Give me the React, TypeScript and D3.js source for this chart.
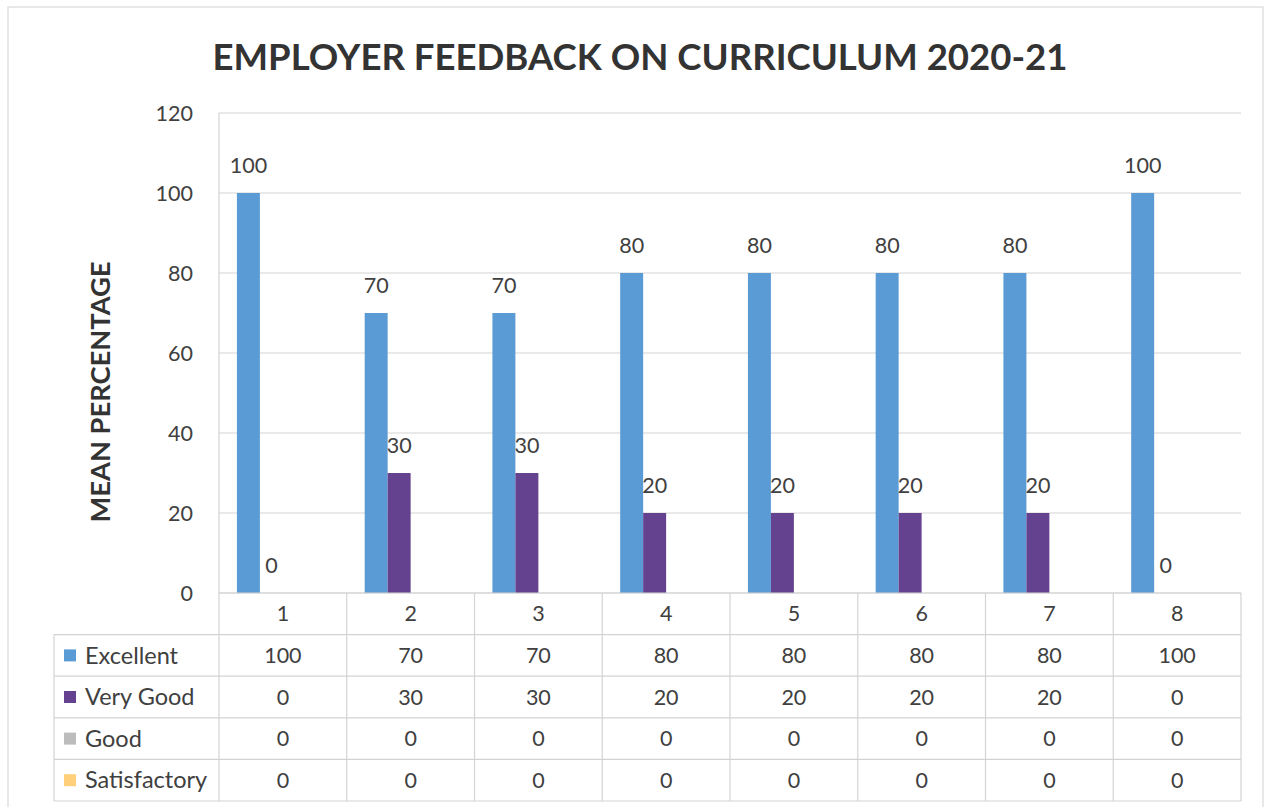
import React from "react";
import * as d3 from "d3";

const TITLE = "EMPLOYER FEEDBACK ON CURRICULUM 2020-21";
const Y_LABEL = "MEAN PERCENTAGE";
const categories = ["1", "2", "3", "4", "5", "6", "7", "8"];
const seriesNames = ["Excellent", "Very Good", "Good", "Satisfactory"];
const excellent = [100, 70, 70, 80, 80, 80, 80, 100];
const veryGood = [0, 30, 30, 20, 20, 20, 20, 0];
const good = [0, 0, 0, 0, 0, 0, 0, 0];
const satisfactory = [0, 0, 0, 0, 0, 0, 0, 0];
const yTicks = [0, 20, 40, 60, 80, 100, 120];
const colors = ["#5b9bd5", "#64428f", "#bcbcbc", "#ffcf7a"];
const showLabels = [true, true, false, false];

const seriesValues = [excellent, veryGood, good, satisfactory];

export default function App() {
  const W = 1267, H = 807;
  const left = 219, right = 1241, top = 113, bottom = 593;
  const tableLeft = 54;
  const rowH = 41.6;
  const font = "Lato, 'Open Sans', sans-serif";
  const txt = "#404040";
  const grid = "#d3d3d3";
  const fs = 21.5;

  const y = d3.scaleLinear().domain([0, 120]).range([bottom, top]);
  const x = d3.scaleBand().domain(categories).range([left, right]).paddingInner(0).paddingOuter(0);
  const inner = d3.scaleBand().domain(seriesNames).range([0, x.bandwidth()]).paddingOuter(0.78).paddingInner(0);

  const tableBottom = bottom + rowH * 5;

  return (
    <svg width={W} height={H} style={{ position: "absolute", left: 0, top: 0, background: "#fff" }} fontFamily={font}>
      <rect x={8} y={7} width={1255} height={812} fill="#fff" stroke="#d9d9d9" strokeWidth={1.2} />
      <text x={640} y={70} textAnchor="middle" fontSize={36} fontWeight="bold" fill="#333" textLength={855} lengthAdjust="spacingAndGlyphs">{TITLE}</text>
      {/* gridlines */}
      {yTicks.map((t) => (
        <line key={t} x1={left} x2={right} y1={y(t)} y2={y(t)} stroke={grid} strokeWidth={1.2} />
      ))}
      <line x1={left} x2={left} y1={top} y2={bottom} stroke={grid} strokeWidth={1.2} />
      {yTicks.map((t) => (
        <text key={"yt" + t} x={193} y={y(t)} dy="0.35em" textAnchor="end" fontSize={fs} fill={txt}>{t}</text>
      ))}
      <text transform={`translate(101,392) rotate(-90)`} textAnchor="middle" dy="0.35em" fontSize={26} fontWeight="bold" fill="#333" textLength={261} lengthAdjust="spacingAndGlyphs">{Y_LABEL}</text>
      {/* bars */}
      {seriesValues.map((vals, si) => (
        <g key={si}>
          {vals.map((v, ci) => {
            const bx = (x(categories[ci]) as number) + (inner(seriesNames[si]) as number);
            const bw = inner.bandwidth();
            return <rect key={ci} x={bx} y={y(v)} width={bw} height={bottom - y(v)} fill={colors[si]} />;
          })}
        </g>
      ))}
      {/* data labels */}
      {seriesValues.map((vals, si) =>
        showLabels[si]
          ? vals.map((v, ci) => {
              const bx = (x(categories[ci]) as number) + (inner(seriesNames[si]) as number) + inner.bandwidth() / 2;
              return (
                <text key={si + "-" + ci} x={bx} y={y(v) - 20} textAnchor="middle" fontSize={fs} fill={txt}>{v}</text>
              );
            })
          : null
      )}
      {/* table */}
      <g stroke={grid} strokeWidth={1.2}>
        {[0, 1, 2, 3, 4, 5].map((r) => (
          <line key={"h" + r} x1={r === 0 ? left : tableLeft} x2={right} y1={bottom + r * rowH} y2={bottom + r * rowH} />
        ))}
        <line x1={tableLeft} x2={tableLeft} y1={bottom + rowH} y2={tableBottom} />
        {categories.map((c, i) => (
          <line key={"v" + i} x1={x(c) as number} x2={x(c) as number} y1={bottom} y2={tableBottom} />
        ))}
        <line x1={right} x2={right} y1={bottom} y2={tableBottom} />
      </g>
      {categories.map((c) => (
        <text key={"c" + c} x={(x(c) as number) + x.bandwidth() / 2} y={bottom + rowH / 2} dy="0.35em" textAnchor="middle" fontSize={fs} fill={txt}>{c}</text>
      ))}
      {seriesValues.map((vals, si) => {
        const cy = bottom + rowH * (si + 1) + rowH / 2;
        return (
          <g key={"row" + si}>
            <rect x={64} y={cy - 6} width={12} height={12} fill={colors[si]} />
            <text x={85} y={cy} dy="0.35em" fontSize={23.5} fill={txt}>{seriesNames[si]}</text>
            {vals.map((v, ci) => (
              <text key={ci} x={(x(categories[ci]) as number) + x.bandwidth() / 2} y={cy} dy="0.35em" textAnchor="middle" fontSize={fs} fill={txt}>{v}</text>
            ))}
          </g>
        );
      })}
    </svg>
  );
}
